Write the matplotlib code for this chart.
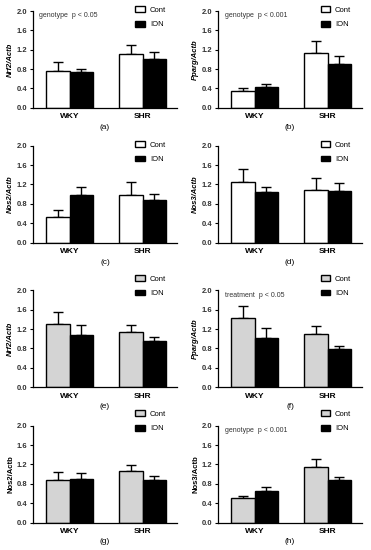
import matplotlib.pyplot as plt
import numpy as np

plt.rcParams['font.family'] = ['Liberation Sans', 'DejaVu Sans']

groups = ['WKY', 'SHR']
ylabels = ['Nrf2/Actb', 'Pparg/Actb', 'Nos2/Actb', 'Nos3/Actb',
           'Nrf2/Actb', 'Pparg/Actb', 'Nos2/Actb', 'Nos3/Actb']
panel_tags = ['(a)', '(b)', '(c)', '(d)', '(e)', '(f)', '(g)', '(h)']
notes = ['genotype  p < 0.05', 'genotype  p < 0.001', '', '',
         '', 'treatment  p < 0.05', '', 'genotype  p < 0.001']

# means (WKY, SHR) and upper error bar lengths
cont_mean = [[0.75, 1.11], [0.35, 1.13], [0.53, 0.98], [1.26, 1.09],
             [1.30, 1.15], [1.42, 1.10], [0.87, 1.06], [0.50, 1.14]]
cont_sem = [[0.20, 0.19], [0.05, 0.24], [0.14, 0.27], [0.26, 0.25],
            [0.25, 0.13], [0.26, 0.16], [0.18, 0.13], [0.05, 0.18]]
ion_mean = [[0.74, 1.00], [0.44, 0.91], [0.99, 0.87], [1.05, 1.07],
            [1.07, 0.96], [1.02, 0.78], [0.90, 0.88], [0.65, 0.88]]
ion_sem = [[0.06, 0.15], [0.06, 0.15], [0.15, 0.14], [0.09, 0.17],
           [0.22, 0.07], [0.20, 0.07], [0.12, 0.08], [0.08, 0.06]]

fig = plt.figure(figsize=(3.71, 5.5), dpi=100)

lefts = [0.089, 0.588]
bottoms = [0.804, 0.559, 0.296, 0.050]
w, h = 0.388, 0.176
x = np.arange(len(groups))
bw = 0.32

for i in range(8):
    row, col = divmod(i, 2)
    ax = fig.add_axes([lefts[col], bottoms[row], w, h])
    cont_color = 'white' if i < 4 else '#d4d4d4'
    ax.bar(x - bw / 2, cont_mean[i], bw, color=cont_color, edgecolor='black',
           linewidth=1.0, label='Cont', zorder=2)
    ax.bar(x + bw / 2, ion_mean[i], bw, color='black', edgecolor='black',
           linewidth=1.0, label='ION', zorder=2)
    ax.errorbar(x - bw / 2, cont_mean[i], yerr=[[0, 0], cont_sem[i]], fmt='none',
                ecolor='black', elinewidth=1.0, capsize=3.5, capthick=1.0, zorder=1)
    ax.errorbar(x + bw / 2, ion_mean[i], yerr=[[0, 0], ion_sem[i]], fmt='none',
                ecolor='black', elinewidth=1.0, capsize=3.5, capthick=1.0, zorder=1)

    ax.set_xlim(-0.5, 1.47)
    ax.set_ylim(0, 2.0)
    ax.set_yticks(np.arange(0, 2.01, 0.4))
    ax.set_yticklabels([f'{v:.1f}' for v in np.arange(0, 2.01, 0.4)],
                       fontsize=5.5, fontweight='bold', color='#333333')
    ax.set_xticks(x)
    ax.set_xticklabels(groups, fontsize=6, fontweight='bold')
    ax.tick_params(axis='x', length=0, pad=4)
    ax.tick_params(axis='y', length=2.5, width=0.8, pad=1.5, direction='out')
    for s in ['top', 'right']:
        ax.spines[s].set_visible(False)
    for s in ['left', 'bottom']:
        ax.spines[s].set_linewidth(0.9)
    ax.set_ylabel(ylabels[i], fontsize=5.5, fontweight='bold',
                  style='italic' if i < 6 else 'normal', labelpad=2)
    ax.text(0.5, -0.165, panel_tags[i], transform=ax.transAxes, ha='center',
            va='top', fontsize=6)
    if notes[i]:
        ax.text(0.045, 0.95, notes[i], transform=ax.transAxes, ha='left',
                va='center', fontsize=5, color='#333333')
    top = 1.08 if i < 4 else 1.19
    ax.legend(loc='upper left', bbox_to_anchor=(0.69, top), frameon=False,
              fontsize=5.5, handlelength=1.3, handleheight=0.8,
              labelspacing=0.9, handletextpad=0.6, borderaxespad=0)

plt.savefig('out.png', dpi=100)
